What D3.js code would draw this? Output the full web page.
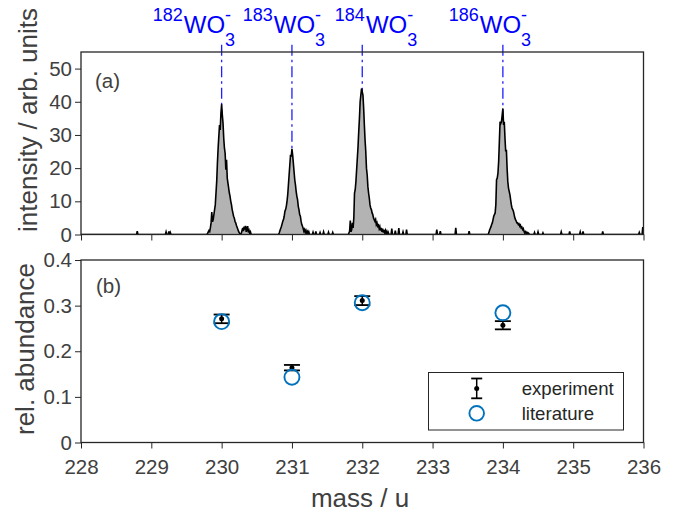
<!DOCTYPE html>
<html>
<head>
<meta charset="utf-8">
<script src="https://cdn.jsdelivr.net/npm/d3@7"></script>
<style>
  html, body { margin: 0; padding: 0; background: #fff; }
  svg { display: block; font-family: "Liberation Sans", Arial, Helvetica, sans-serif; }
</style>
</head>
<body>
<svg id="chart" width="675" height="513"></svg>
<script>
// ---------------- data ----------------
const massTicks = [228, 229, 230, 231, 232, 233, 234, 235, 236];
const intensityTicks = [0, 10, 20, 30, 40, 50];
const abundanceTicks = [0, 0.1, 0.2, 0.3, 0.4];
const abundanceTickLabels = ["0", "0.1", "0.2", "0.3", "0.4"];

// WO3- anions: tungsten mass number and molecular mass (u)
const isotopeNumbers = ["182", "183", "184", "186"];
const isotopeMass = [230, 231, 232, 234];

// measured spectrum, intensity per 0.01 u bin; each peak array starts at
// (isotope mass + first offset)
const peakFirstOffset = [-0.20, -0.18, -0.19, -0.20];
const peak182 = [0.3, 0.8, 1.2, 0.9, 2.0, 3.5, 6.8, 3.8, 4.5, 6.0, 7.5, 9.0, 12.5, 16.0, 21.5, 26.0, 29.5, 33.0, 31.5, 36.5,
                 39.2, 36.0, 33.5, 29.0, 26.0, 24.5, 19.5, 22.5, 17.0, 15.5, 14.0, 12.5, 11.5, 10.0, 9.0, 7.5, 6.5, 5.5, 5.0, 4.0,
                 3.5, 2.8, 2.2, 1.6, 1.0, 0.6, 0.2, 0, 0.4, 1.2, 2.0, 1.0, 2.4, 1.5, 2.6, 0.8, 1.8, 2.5, 0.6, 1.2, 0.3, 0.8, 0];
const peak183 = [0.5, 1.2, 1.8, 2.4, 3.2, 4.0, 4.5, 5.5, 7.0, 7.5, 8.5, 10.0, 12.0, 15.0, 18.0, 21.0, 24.0, 23.5,
                 25.8, 24.0, 21.5, 19.0, 16.5, 15.0, 13.0, 11.5, 10.5, 8.5, 7.5, 6.0, 5.5, 4.0, 3.0, 2.5, 1.8, 1.0,
                 1.5, 0.6, 1.2, 0.4, 0.9, 0.2, 0.8, 0];
const peak184 = [0.4, 1.0, 4.2, 0.8, 1.5, 3.5, 2.0, 5.0, 12.5, 13.5, 16.0, 19.5, 23.0, 26.5, 31.0, 35.0, 40.0, 42.0, 44.0,
                 43.0, 42.0, 38.0, 33.0, 28.5, 25.0, 20.0, 18.0, 14.5, 12.5, 11.0, 9.0, 8.0, 7.5, 6.5, 6.0, 5.0, 4.5, 4.0,
                 4.5, 3.0, 3.5, 2.5, 2.8, 1.8, 2.4, 1.2, 2.0, 0.8, 1.8, 0.6, 1.4, 0.5, 1.2, 0.3, 0.9, 0, 0.6, 0];
const peak186 = [0.5, 1.3, 1.8, 2.3, 3.0, 3.5, 4.5, 5.5, 6.0, 6.5, 9.0, 16.5, 17.0, 18.5, 22.0, 28.0, 34.0, 33.5, 34.0, 36.0,
                 38.0, 33.0, 34.0, 29.0, 25.0, 25.5, 20.0, 16.0, 14.0, 13.0, 12.0, 10.5, 9.0, 8.0, 7.5, 7.0, 6.0, 5.0, 4.5, 4.0,
                 3.5, 3.5, 3.0, 3.2, 2.5, 2.8, 2.0, 2.2, 1.5, 1.8, 1.0, 0.5, 0.8, 0.2, 0.6, 0, 0.5, 0.3, 0];
// isolated background counts
const blipMass = [228.80, 229.21, 229.25, 229.27, 231.30, 231.34, 231.40, 231.45, 231.52, 231.58,
                  232.42, 232.47, 232.52, 232.58, 232.63, 233.06, 233.11, 233.33, 233.52,
                  234.45, 234.50, 234.57, 234.83, 234.95, 235.10, 235.14, 235.42, 235.94, 235.99];
const blipIntensity = [1.0, 0.8, 0.9, 0.6, 0.7, 0.9, 0.6, 0.8, 0.7, 0.6,
                       1.8, 1.2, 1.9, 0.8, 1.5, 1.5, 1.0, 2.0, 1.0,
                       0.6, 0.8, 0.5, 0.8, 0.9, 0.8, 0.9, 0.9, 0.6, 2.2];

// relative isotopic abundances
const expAbundance = [0.271, 0.164, 0.311, 0.257];
const expError = [0.0095, 0.006, 0.0098, 0.009];
const litAbundance = [0.2650, 0.1431, 0.3064, 0.2843];

// ---------------- layout ----------------
const textColor = "#404040";
const axisColor = "#262626";
const blueLit = "#0072BD";
const tickFont = 20.5;
const labelFont = 26;
// left edge of each peak annotation, relative to its peak (u)
const annotShift = [-0.98, -0.70, -0.39, -0.77];

const binWidth = 0.01;
const nBins = Math.round((236 - 228) / binWidth) + 1;
const spectrum = d3.range(nBins).map(i => ({ m: 228 + i * binWidth, v: 0 }));
[peak182, peak183, peak184, peak186].forEach((arr, k) => {
  const i0 = Math.round((isotopeMass[k] + peakFirstOffset[k] - 228) / binWidth);
  arr.forEach((v, j) => { spectrum[i0 + j].v = v; });
});
blipMass.forEach((m, k) => { spectrum[Math.round((m - 228) / binWidth)].v = blipIntensity[k]; });

const svg = d3.select("#chart");
const x = d3.scaleLinear().domain([228, 236]).range([81, 643.5]);
const yA = d3.scaleLinear().domain([0, 55]).range([234.5, 52]);
const yB = d3.scaleLinear().domain([0, 0.4]).range([442.5, 260]);

function styleAxis(g) {
  g.attr("font-family", null).attr("font-size", tickFont);
  g.select(".domain").remove();
  g.selectAll(".tick line").attr("stroke", axisColor).attr("stroke-width", 1);
  g.selectAll(".tick text").attr("fill", textColor);
}

// ---------------- panel (a): spectrum ----------------
svg.append("clipPath").attr("id", "clipA")
  .append("rect").attr("x", x(228)).attr("y", yA(55))
  .attr("width", x(236) - x(228)).attr("height", yA(0) - yA(55));

// dash-dot markers at the expected masses
svg.append("g").selectAll("line").data(isotopeMass).join("line")
  .attr("x1", d => x(d)).attr("x2", d => x(d))
  .attr("y1", yA(57.2)).attr("y2", yA(0))
  .attr("stroke", "#1f1fff").attr("stroke-width", 1.3)
  .attr("stroke-dasharray", "11,4,2.5,4");

const gSpec = svg.append("g").attr("clip-path", "url(#clipA)");
gSpec.append("path").datum(spectrum)
  .attr("d", d3.area().x(d => x(d.m)).y0(yA(0)).y1(d => yA(d.v)))
  .attr("fill", "#b3b3b3");
gSpec.append("path").datum(spectrum)
  .attr("d", d3.line().x(d => x(d.m)).y(d => yA(d.v)))
  .attr("fill", "none").attr("stroke", "#000").attr("stroke-width", 1.6)
  .attr("stroke-linejoin", "miter");

svg.append("g").attr("transform", `translate(0,${yA(0)})`)
  .call(d3.axisBottom(x).tickValues(massTicks).tickSize(6).tickSizeOuter(0).tickFormat(""))
  .call(styleAxis);
svg.append("g").attr("transform", `translate(${x(228)},0)`)
  .call(d3.axisLeft(yA).tickValues(intensityTicks).tickSize(6).tickPadding(3).tickSizeOuter(0).tickFormat(d3.format("d")))
  .call(styleAxis);

svg.append("rect")
  .attr("x", x(228)).attr("y", yA(55))
  .attr("width", x(236) - x(228)).attr("height", yA(0) - yA(55))
  .attr("fill", "none").attr("stroke", axisColor).attr("stroke-width", 1.3);

svg.append("text").attr("x", 95).attr("y", 87.5)
  .attr("font-size", tickFont).attr("fill", textColor).text("(a)");

// isotope annotations: ^{A}WO_3^-
isotopeMass.forEach((m, k) => {
  const g = svg.append("g").attr("fill", "#0000ff");
  const x0 = x(m + annotShift[k]);
  const sup = g.append("text").attr("x", x0).attr("y", 20.7).attr("font-size", 18).text(isotopeNumbers[k]);
  const w1 = sup.node().getComputedTextLength();
  const main = g.append("text").attr("x", x0 + w1 + 1).attr("y", 33).attr("font-size", 24).text("WO");
  const w2 = main.node().getComputedTextLength();
  g.append("text").attr("x", x0 + w1 + 1 + w2).attr("y", 20.5).attr("font-size", 18).text("-");
  g.append("text").attr("x", x0 + w1 + 1 + w2).attr("y", 45.7).attr("font-size", 18).text("3");
});

svg.append("text")
  .attr("transform", `translate(37,120) rotate(-90)`)
  .attr("text-anchor", "middle").attr("font-size", labelFont).attr("fill", textColor)
  .text("intensity / arb. units");

// ---------------- panel (b): abundances ----------------
svg.append("g").attr("transform", `translate(0,${yB(0)})`)
  .call(d3.axisBottom(x).tickValues(massTicks).tickSize(6).tickPadding(11).tickSizeOuter(0).tickFormat(d3.format("d")))
  .call(styleAxis);
svg.append("g").attr("transform", `translate(${x(228)},0)`)
  .call(d3.axisLeft(yB).tickValues(abundanceTicks).tickSize(6).tickPadding(3).tickSizeOuter(0)
    .tickFormat((d, i) => abundanceTickLabels[i]))
  .call(styleAxis);

svg.append("rect")
  .attr("x", x(228)).attr("y", yB(0.4))
  .attr("width", x(236) - x(228)).attr("height", yB(0) - yB(0.4))
  .attr("fill", "none").attr("stroke", axisColor).attr("stroke-width", 1.3);

svg.append("text").attr("x", 96).attr("y", 293)
  .attr("font-size", tickFont).attr("fill", textColor).text("(b)");

// experiment: error bars with point
const capHalf = 8;
const gExp = svg.append("g").attr("stroke", "#000");
isotopeMass.forEach((m, k) => {
  const cx = x(m);
  const lo = yB(expAbundance[k] - expError[k]);
  const hi = yB(expAbundance[k] + expError[k]);
  gExp.append("line").attr("x1", cx).attr("x2", cx).attr("y1", lo).attr("y2", hi).attr("stroke-width", 1.5);
  gExp.append("line").attr("x1", cx - capHalf).attr("x2", cx + capHalf).attr("y1", lo).attr("y2", lo).attr("stroke-width", 1.8);
  gExp.append("line").attr("x1", cx - capHalf).attr("x2", cx + capHalf).attr("y1", hi).attr("y2", hi).attr("stroke-width", 1.8);
  gExp.append("circle").attr("cx", cx).attr("cy", yB(expAbundance[k])).attr("r", 2.5).attr("fill", "#000").attr("stroke", "none");
});

// literature values
svg.append("g").selectAll("circle").data(isotopeMass).join("circle")
  .attr("cx", d => x(d)).attr("cy", (d, i) => yB(litAbundance[i])).attr("r", 7.5)
  .attr("fill", "none").attr("stroke", blueLit).attr("stroke-width", 1.9);

// legend
const lg = svg.append("g");
lg.append("rect").attr("x", 428.5).attr("y", 372.5).attr("width", 195).attr("height", 57.5)
  .attr("fill", "#fff").attr("stroke", axisColor).attr("stroke-width", 1);
const lx = 476.7;
lg.append("line").attr("x1", lx).attr("x2", lx).attr("y1", 378.5).attr("y2", 398.3).attr("stroke", "#000").attr("stroke-width", 1.5);
lg.append("line").attr("x1", lx - 5.5).attr("x2", lx + 5.5).attr("y1", 378.5).attr("y2", 378.5).attr("stroke", "#000").attr("stroke-width", 1.8);
lg.append("line").attr("x1", lx - 5.5).attr("x2", lx + 5.5).attr("y1", 398.3).attr("y2", 398.3).attr("stroke", "#000").attr("stroke-width", 1.8);
lg.append("circle").attr("cx", lx).attr("cy", 388.4).attr("r", 2.5).attr("fill", "#000");
lg.append("circle").attr("cx", lx).attr("cy", 413.3).attr("r", 7.3).attr("fill", "none").attr("stroke", blueLit).attr("stroke-width", 1.9);
lg.append("text").attr("x", 521.7).attr("y", 395).attr("font-size", 18.6).attr("fill", "#262626").text("experiment");
lg.append("text").attr("x", 521.7).attr("y", 420).attr("font-size", 18.6).attr("fill", "#262626").text("literature");

svg.append("text")
  .attr("transform", `translate(34,349) rotate(-90)`)
  .attr("text-anchor", "middle").attr("font-size", labelFont).attr("fill", textColor)
  .text("rel. abundance");

svg.append("text").attr("x", 360).attr("y", 506.5)
  .attr("text-anchor", "middle").attr("font-size", labelFont).attr("fill", textColor)
  .text("mass / u");
</script>
</body>
</html>
